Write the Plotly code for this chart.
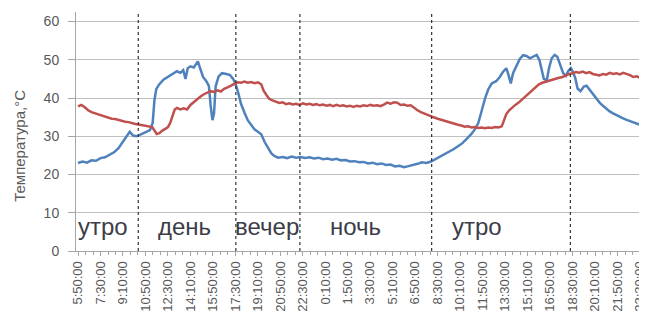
import plotly.graph_objects as go

# minutes elapsed since 5:50:00 on day 1
tick_minutes = list(range(0, 2600, 100))
tick_labels = ["5:50:00", "7:30:00", "9:10:00", "10:50:00", "12:30:00", "14:10:00",
               "15:50:00", "17:30:00", "19:10:00", "20:50:00", "22:30:00", "0:10:00",
               "1:50:00", "3:30:00", "5:10:00", "6:50:00", "8:30:00", "10:10:00",
               "11:50:00", "13:30:00", "15:10:00", "16:50:00", "18:30:00", "20:10:00",
               "21:50:00", "23:30:00"]

blue_points = [(0,23.0),(20,23.4),(40,23.1),(60,23.7),(80,23.6),(100,24.3),(120,24.5),(140,25.1),
    (160,25.8),(180,26.9),(200,28.5),(215,29.8),(230,31.2),(245,30.2),(260,30.0),(280,30.5),
    (300,31.0),(320,31.6),(332,33.5),(340,39.5),(348,42.3),(360,43.5),(380,44.8),(400,45.6),
    (420,46.4),(440,47.0),(455,46.6),(468,47.3),(478,45.0),(488,47.8),(500,48.3),(515,48.0),
    (533,49.6),(545,47.5),(556,45.5),(570,44.5),(582,43.2),(590,38.0),(598,34.2),(605,36.0),
    (612,43.0),(625,45.6),(640,46.5),(660,46.3),(676,46.0),(690,45.0),(700,43.8),(712,41.5),
    (725,38.5),(740,36.2),(755,34.2),(770,33.0),(785,31.8),(800,31.2),(815,30.5),(830,28.5),
    (845,26.8),(860,25.5),(875,24.8),(890,24.4),(910,24.6),(930,24.3),(950,24.7),(970,24.4),
    (990,24.6),(1010,24.3),(1030,24.5),(1050,24.2),(1070,24.4),(1090,24.0),(1110,24.2),
    (1130,23.9),(1150,24.1),(1170,23.7),(1190,23.8),(1210,23.4),(1230,23.5),(1250,23.2),
    (1270,23.3),(1290,22.9),(1310,23.1),(1330,22.7),(1350,22.9),(1370,22.5),(1390,22.6),
    (1410,22.1),(1430,22.3),(1450,21.9),(1470,22.2),(1490,22.4),(1510,22.8),(1530,23.2),
    (1550,23.0),(1570,23.4),(1590,24.0),(1610,24.6),(1630,25.3),(1650,26.0),(1670,26.6),
    (1690,27.4),(1710,28.2),(1730,29.4),(1750,30.6),(1765,31.8),(1780,33.4),(1790,35.5),
    (1800,38.0),(1812,40.2),(1825,42.3),(1840,43.8),(1860,44.4),(1876,45.5),(1890,46.8),
    (1905,47.8),(1915,46.0),(1925,43.8),(1935,46.5),(1950,48.4),(1965,50.2),(1980,51.2),
    (1995,51.0),(2010,50.4),(2025,50.8),(2040,51.3),(2052,50.0),(2062,47.5),(2072,45.0),
    (2085,44.6),(2095,47.8),(2107,50.4),(2120,51.3),(2132,50.8),(2145,48.5),(2158,46.5),
    (2170,45.8),(2180,47.0),(2192,47.8),(2200,47.0),(2212,45.2),(2222,42.5),(2235,41.8),
    (2250,43.0),(2262,43.2),(2275,42.2),(2290,41.2),(2305,40.0),(2320,38.8),(2335,38.0),
    (2350,37.2),(2365,36.5),(2380,36.0),(2400,35.3),(2420,34.8),(2440,34.3),(2460,33.8),
    (2480,33.3),(2500,33.0),(2520,32.8)]

red_points = [(0,37.8),(15,38.2),(30,37.6),(45,36.8),(60,36.3),(75,36.0),(90,35.6),(105,35.4),
    (120,35.0),(135,34.9),(150,34.6),(165,34.5),(180,34.2),(195,34.0),(210,33.8),(225,33.7),
    (240,33.4),(255,33.2),(270,33.1),(285,32.9),(300,32.8),(315,32.6),(330,32.4),(340,31.5),
    (350,30.6),(362,30.8),(375,31.5),(390,32.0),(400,32.4),(410,33.5),(420,35.3),(430,37.0),
    (440,37.4),(455,37.0),(470,37.3),(485,37.0),(500,38.2),(515,39.0),(530,39.6),(545,40.4),
    (560,41.0),(575,41.3),(590,41.8),(605,41.6),(620,42.0),(635,41.7),(650,42.4),(665,42.8),
    (680,43.3),(695,43.8),(710,44.1),(725,44.0),(740,44.3),(755,44.0),(770,44.2),(785,43.9),
    (800,44.1),(815,43.6),(825,42.0),(838,40.8),(850,39.8),(865,39.4),(880,39.0),(895,38.7),
    (910,38.9),(925,38.4),(940,38.6),(955,38.3),(970,38.5),(985,38.2),(1000,38.6),(1015,38.3),
    (1030,38.5),(1045,38.2),(1060,38.4),(1075,38.1),(1090,38.3),(1105,38.0),(1120,38.2),
    (1135,37.9),(1150,38.2),(1165,37.9),(1180,38.1),(1195,37.8),(1210,38.0),(1225,37.7),
    (1240,38.0),(1255,37.8),(1270,38.1),(1285,37.9),(1300,38.2),(1315,38.0),(1330,38.1),
    (1345,37.9),(1360,38.3),(1375,38.8),(1390,38.5),(1405,38.9),(1420,38.8),(1435,38.2),
    (1450,38.3),(1465,38.0),(1480,38.1),(1495,37.4),(1510,36.8),(1525,36.3),(1540,35.9),
    (1555,35.6),(1570,35.2),(1585,34.9),(1600,34.6),(1615,34.3),(1630,34.0),(1645,33.8),
    (1660,33.5),(1675,33.3),(1690,33.0),(1705,32.8),(1720,32.5),(1735,32.6),(1750,32.3),
    (1765,32.4),(1780,32.2),(1795,32.3),(1810,32.1),(1825,32.3),(1840,32.2),(1855,32.4),
    (1870,32.3),(1885,32.6),(1895,34.0),(1905,35.8),(1918,36.8),(1930,37.5),(1945,38.2),
    (1960,38.8),(1975,39.6),(1990,40.4),(2005,41.2),(2020,42.0),(2035,42.8),(2050,43.6),
    (2065,44.0),(2080,44.3),(2095,44.5),(2110,44.8),(2125,45.0),(2140,45.3),(2155,45.5),
    (2170,46.0),(2185,46.3),(2200,46.5),(2215,46.8),(2230,46.6),(2245,46.9),(2260,46.5),
    (2275,46.8),(2290,46.3),(2305,46.1),(2320,45.9),(2335,46.3),(2350,46.1),(2365,46.6),
    (2380,46.3),(2395,46.5),(2410,46.2),(2425,46.6),(2440,46.4),(2455,46.0),(2470,45.5),
    (2485,45.7),(2500,45.3),(2520,45.6)]

period_names = ["утро", "день", "вечер", "ночь", "утро"]
period_starts = [-8, 347, 689, 1111, 1653]
period_bounds = [268, 702, 987, 1573, 2190]

fig = go.Figure()
fig.add_trace(go.Scatter(x=[p[0] for p in blue_points], y=[p[1] for p in blue_points],
                         mode="lines", line=dict(color="#4F81BD", width=2.5), showlegend=False))
fig.add_trace(go.Scatter(x=[p[0] for p in red_points], y=[p[1] for p in red_points],
                         mode="lines", line=dict(color="#C0504D", width=2.5), showlegend=False))

for b in period_bounds:
    fig.add_shape(type="line", xref="x", yref="y", x0=b, x1=b, y0=0, y1=62.5,
                  line=dict(color="#333333", width=1.2, dash="dot"))

for name, s in zip(period_names, period_starts):
    fig.add_annotation(x=s, y=6.3, xref="x", yref="y", text=name, showarrow=False,
                       xanchor="left", yanchor="middle",
                       font=dict(family="Liberation Sans", size=24, color="#3d3d48"))

# y-axis title as annotation for exact placement
fig.add_annotation(x=0, xref="paper", xshift=-56, y=0.44, yref="paper",
                   text="Температура,°C", textangle=-90, showarrow=False,
                   xanchor="center", yanchor="middle",
                   font=dict(family="Liberation Sans", size=15, color="#595959"))

# page body has an 8px margin: size the figure to fit the 647x322 window
fig.update_layout(
    width=639, height=314,
    margin=dict(l=68, r=2, t=4, b=71, autoexpand=False),
    paper_bgcolor="white", plot_bgcolor="white",
    font=dict(family="Liberation Sans", color="#595959"),
)
fig.update_xaxes(range=[-9, 2522], tickvals=tick_minutes, ticktext=tick_labels,
                 tickangle=-90, tickfont=dict(size=13, color="#595959"),
                 ticklabeloverflow="allow",
                 showgrid=False, showline=True, linecolor="#a6a6a6", linewidth=1,
                 ticks="outside", ticklen=4, tickcolor="#a6a6a6",
                 minor=dict(ticks="outside", dtick=100/3, tick0=0, ticklen=3, tickcolor="#a6a6a6"),
                 zeroline=False, automargin=False)
fig.update_yaxes(range=[0, 62.5], tickvals=[0, 10, 20, 30, 40, 50, 60],
                 tickfont=dict(size=14, color="#595959"),
                 showgrid=True, gridcolor="#bfbfbf", gridwidth=1.3,
                 showline=True, linecolor="#a6a6a6", linewidth=1,
                 ticks="outside", ticklen=7, tickcolor="#a6a6a6",
                 ticklabelstandoff=6,
                 zeroline=False, automargin=False)

fig.write_html("out.html")
